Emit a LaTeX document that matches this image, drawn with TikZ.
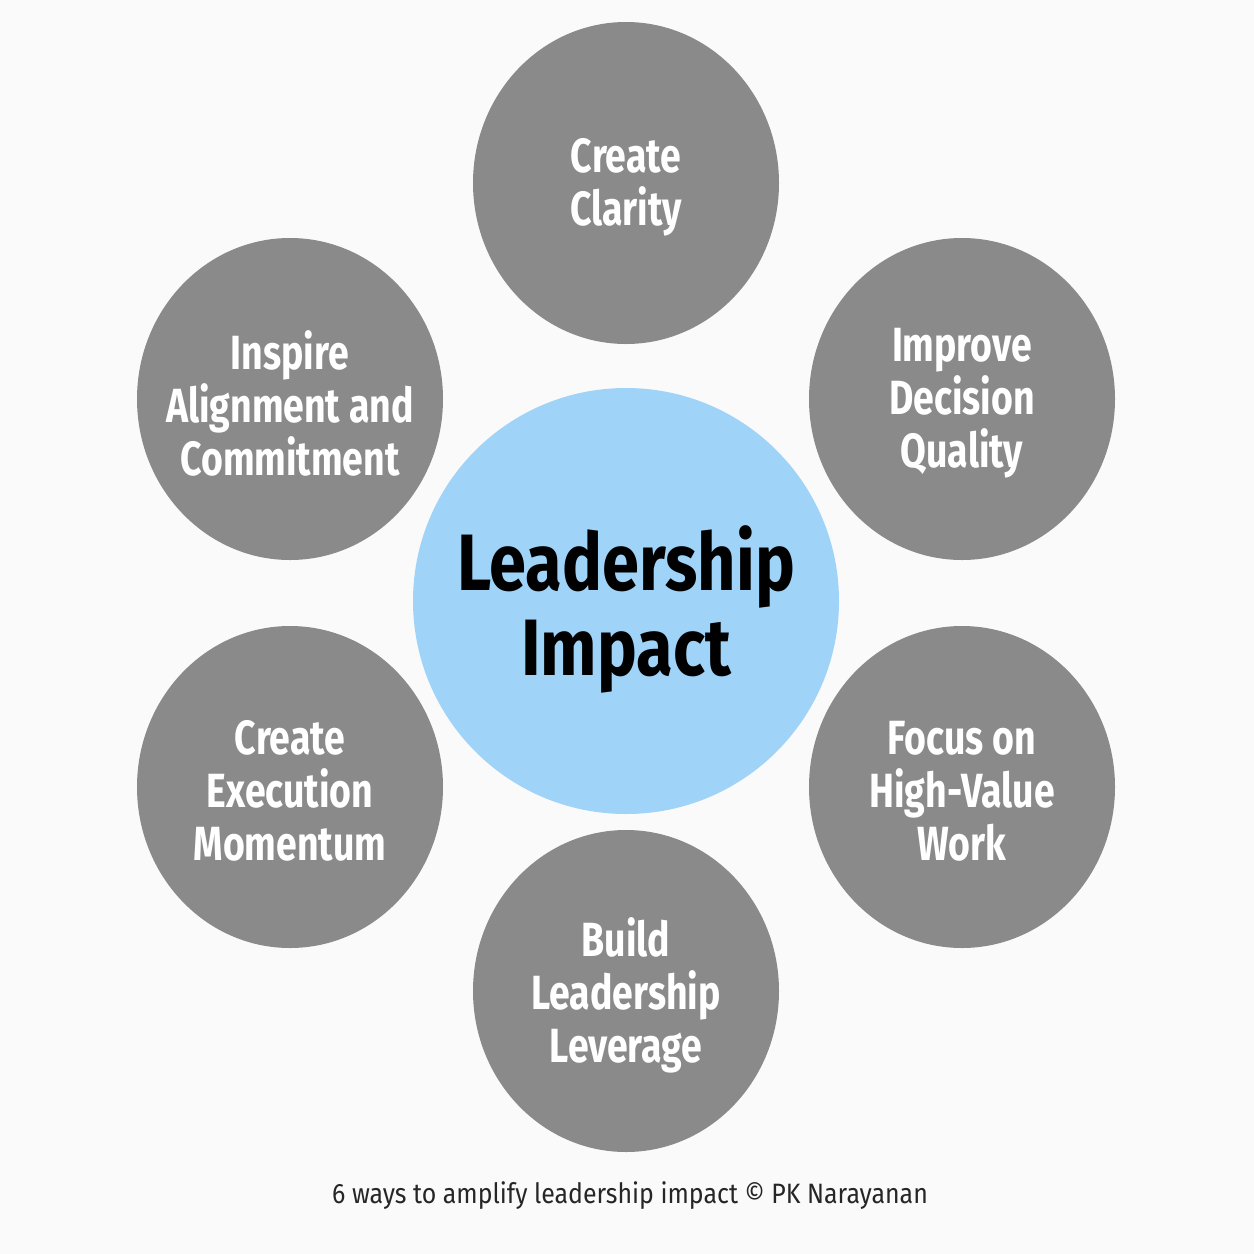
\documentclass[tikz,border=0pt]{standalone}
\usepackage{fontspec}
\setmainfont{Fira Sans}
\newfontfamily\labfont[FakeStretch=0.78]{Fira Sans}
\newfontfamily\hubfont[FakeStretch=0.835]{Fira Sans}
\newfontfamily\capfont[FakeStretch=0.89]{Fira Sans}
\usetikzlibrary{shapes.geometric}
\definecolor{bgcol}{HTML}{FAFAFA}
\definecolor{graycol}{HTML}{8A8A8A}
\definecolor{bluecol}{HTML}{9FD3F8}
\tikzset{
  disk/.style={ellipse, fill=graycol, draw=none, minimum width=306pt, minimum height=322pt, inner sep=0pt},
  itemtext/.style={inner sep=0pt, align=center, text=white, yshift=-4pt,
    font=\labfont\bfseries\fontsize{48}{53}\selectfont},
  hub/.style={circle, fill=bluecol, draw=none, minimum size=426pt, inner sep=0pt},
  hubtext/.style={inner sep=0pt, align=center, text=black, yshift=-8pt,
    font=\hubfont\bfseries\fontsize{80}{85}\selectfont},
  caption/.style={inner sep=0pt, text=black!85, font=\capfont\fontsize{28}{32}\selectfont}
}
\begin{document}
\begin{tikzpicture}[x=1pt,y=-1pt]
\fill[bgcol] (0,0) rectangle (1254,1254);
\useasboundingbox (0,0) rectangle (1254,1254);
\node[hub] (hub) at (626,601) {};
\node[hubtext] (hubt) at (hub.center) {Leadership\\Impact};
\node[disk] (top) at (626,183) {};
\node[itemtext] (topt) at (top.center) {Create\\Clarity};
\node[disk] (ul) at (290,399) {};
\node[itemtext] (ult) at (ul.center) {Inspire\\Alignment and\\Commitment};
\node[disk] (ur) at (962,399) {};
\node[itemtext] (urt) at (ur.center) {Improve\\Decision\\Quality};
\node[disk] (ll) at (290,787) {};
\node[itemtext] (llt) at (ll.center) {Create\\Execution\\Momentum};
\node[disk] (lr) at (962,787) {};
\node[itemtext] (lrt) at (lr.center) {Focus on\\High-Value\\Work};
\node[disk] (bot) at (626,991) {};
\node[itemtext] (bott) at (bot.center) {Build\\Leadership\\Leverage};
\node[caption, anchor=base] (cap) at (630,1203) {6 ways to amplify leadership impact © PK Narayanan};
\end{tikzpicture}
\end{document}
